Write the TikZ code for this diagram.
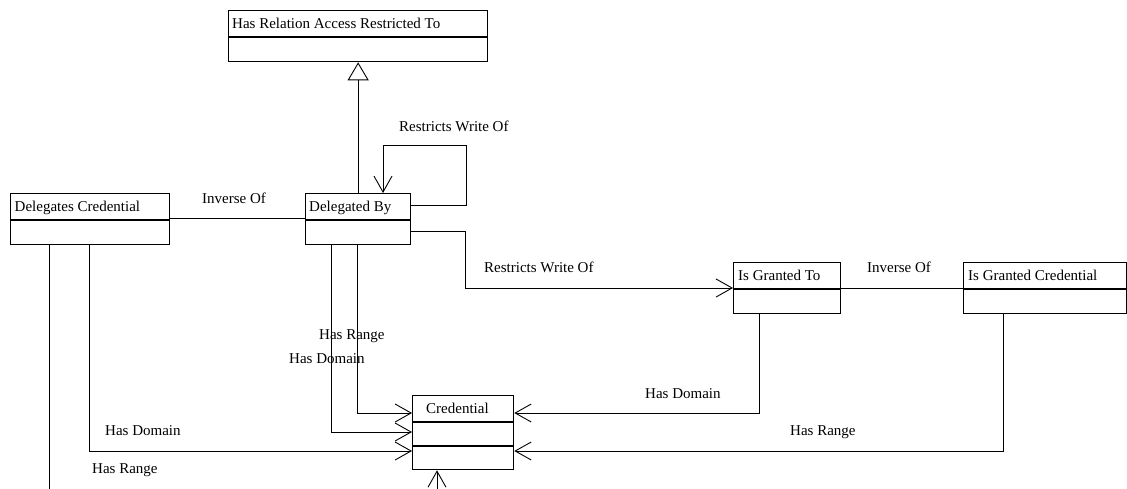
\documentclass[tikz,border=0pt]{standalone}
\usepackage{fontspec}
\setmainfont{Liberation Serif}
\usetikzlibrary{arrows.meta}
\newcommand\umlclass[7]{%
  \node[box,minimum width=#4pt,minimum height=#5pt] (#1) at (#2,#3) {};
  \node[txt] (#1-t) at ([xshift=#7pt,yshift=-18pt]#1.north west) {#6};
  \draw[line width=1.3pt] ([yshift=-27pt]#1.north west) -- ([yshift=-27pt]#1.north east);
}
\begin{document}
\begin{tikzpicture}[x=1pt,y=-1pt,
  box/.style={draw,line width=1.3pt,inner sep=0pt,anchor=north west},
  conn/.style={draw,line width=0.9pt},
  opena/.style={-{Straight Barb[length=16pt,width=18pt,line width=0.9pt]}},
  gen/.style={-{Triangle[open,length=18pt,width=21pt,fill=white,line width=0.9pt]}},
  txt/.style={anchor=base west,inner sep=0pt,font=\fontsize{15}{18}\selectfont},
]
\useasboundingbox (0,0) rectangle (1127,488);
\clip (0,0) rectangle (1127,488);

\umlclass{har}{228}{10}{259}{51}{Has Relation Access Restricted To}{4}
\umlclass{db}{305}{193}{105}{51}{Delegated By}{4}
\umlclass{dc}{10}{193}{159}{51}{Delegates Credential}{4.5}
\umlclass{cred}{412}{395}{101}{74}{Credential}{14}
\draw[line width=1.3pt] ([yshift=-51pt]cred.north west) -- ([yshift=-51pt]cred.north east);
\umlclass{igt}{733}{262}{107}{51}{Is Granted To}{5}
\umlclass{igc}{963}{262}{163}{51}{Is Granted Credential}{5}

% generalization
\draw[conn,gen] (db.north) -- (har.south);
% self loop
\draw[conn,opena] ([yshift=-12pt]db.north east) -| (466,145) -| ([xshift=78pt]db.north west);
% inverse of (left)
\draw[conn] ([yshift=-25pt]dc.north east) -- ([yshift=-25pt]db.north west);
% restricts write of
\draw[conn,opena] ([yshift=-38pt]db.north east) -| (465,288) -- ([yshift=-26pt]igt.north west);
% inverse of (right)
\draw[conn] ([yshift=-26pt]igt.north east) -- ([yshift=-26pt]igc.north west);
% has domain / range to credential
\draw[conn,opena] ([xshift=26pt]igt.south west) |- ([yshift=-18pt]cred.north east);
\draw[conn,opena] ([xshift=40pt]igc.south west) |- ([yshift=-56pt]cred.north east);
\draw[conn,opena] ([xshift=52pt]db.south west) |- ([yshift=-18pt]cred.north west);
\draw[conn,opena] ([xshift=26pt]db.south west) |- ([yshift=-37pt]cred.north west);
\draw[conn,opena] ([xshift=79pt]dc.south west) |- ([yshift=-56pt]cred.north west);
\draw[conn,opena] ([xshift=39pt]dc.south west) |- ([xshift=25pt,yshift=-50pt]cred.south west) -- ([xshift=25pt]cred.south west);

% labels
\node[txt] (l1) at (399,131) {Restricts Write Of};
\node[txt] (l2) at (202,203) {Inverse Of};
\node[txt] (l3) at (484,272) {Restricts Write Of};
\node[txt] (l4) at (867,272) {Inverse Of};
\node[txt] (l5) at (645,398) {Has Domain};
\node[txt] (l6) at (790,435) {Has Range};
\node[txt] (l7) at (319,339) {Has Range};
\node[txt] (l8) at (289,363) {Has Domain};
\node[txt] (l9) at (105,435) {Has Domain};
\node[txt] (l10) at (92,473) {Has Range};
\end{tikzpicture}
\end{document}
